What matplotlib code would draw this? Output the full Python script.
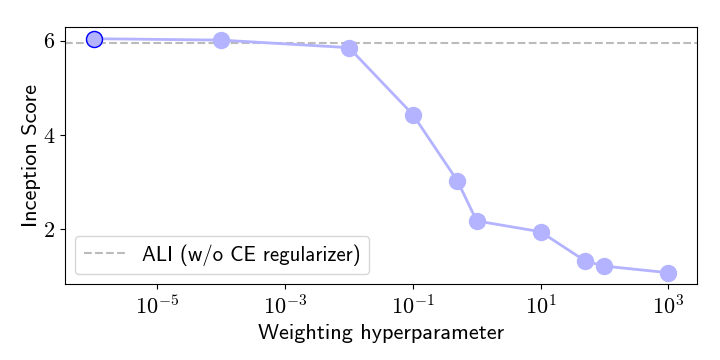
import numpy as np
import matplotlib
matplotlib.use('Agg')
import matplotlib.pyplot as plt

plt.rcParams['font.family'] = 'cmr10'
plt.rcParams['mathtext.fontset'] = 'cm'
plt.rcParams['axes.formatter.use_mathtext'] = True

weights = [1e-6, 1e-4, 1e-2, 1e-1, 0.5, 1, 10, 50, 100, 1000]
scores = [6.04, 6.01, 5.85, 4.43, 3.02, 2.17, 1.94, 1.32, 1.21, 1.07]
ali_score = 5.95

fig, ax = plt.subplots(figsize=(7.2, 3.6), dpi=100)
ax.axhline(ali_score, color='#bbbbbb', ls='--', lw=1.5, label='ALI (w/o CE regularizer)')
ax.plot(weights, scores, '-o', color='#b3b3ff', lw=2, ms=11.5)
ax.plot(weights[:1], scores[:1], 'o', color='#b3b3ff', mec='blue', mew=1, ms=11.5)
ax.set_xscale('log')
ax.set_yticks([2, 4, 6])
ax.tick_params(labelsize=16)
ax.set_xlabel('Weighting hyperparameter', fontfamily='cmss10', fontsize=16)
ax.set_ylabel('Inception Score', fontfamily='cmss10', fontsize=16, labelpad=1)
ax.legend(loc='lower left', prop={'family': 'cmss10', 'size': 15})

fig.subplots_adjust(left=0.09, right=0.968, top=0.925, bottom=0.21)
fig.savefig('out.png')
